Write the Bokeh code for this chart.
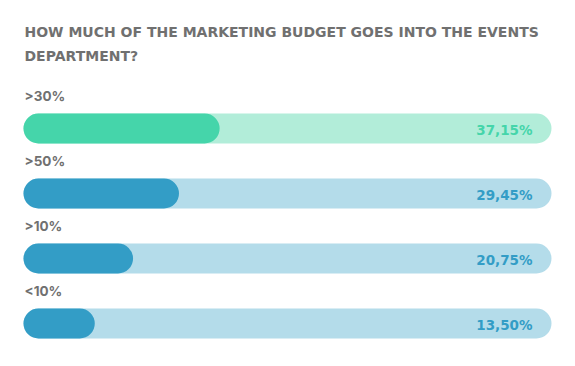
from bokeh.plotting import figure
from bokeh.models import Range1d, ColumnDataSource, Label
from bokeh.core.properties import value
from bokeh.embed import file_html
from bokeh.resources import INLINE

title_lines = ["HOW MUCH OF THE MARKETING BUDGET GOES INTO THE EVENTS", "DEPARTMENT?"]
categories = [">30%", ">50%", ">10%", "<10%"]
values = [37.15, 29.45, 20.75, 13.50]
value_labels = ["37,15%", "29,45%", "20,75%", "13,50%"]
fill_colors = ["#45d5aa", "#339dc6", "#339dc6", "#339dc6"]
track_colors = ["#b2edd9", "#b4dcea", "#b4dcea", "#b4dcea"]
scale_max = 100

W, H = 559, 350
left_pad = 23
px_per_unit = 528 / scale_max
row_px = 65
first_row_px = 128

rows = list(range(len(categories)))
src = ColumnDataSource(dict(
    y=rows,
    cat=categories,
    val=values,
    lab=value_labels,
    fill=fill_colors,
    track=track_colors,
    full=[scale_max] * len(rows),
    zero=[0] * len(rows),
    cat_y=[r - 33 / row_px for r in rows],
))

p = figure(width=W, height=H, output_backend="svg", toolbar_location=None,
           min_border=0, min_border_left=0, min_border_right=0,
           min_border_top=0, min_border_bottom=0)
p.x_range = Range1d(-left_pad / px_per_unit, (W - left_pad) / px_per_unit)
p.y_range = Range1d((H - first_row_px) / row_px, -first_row_px / row_px)
p.xaxis.visible = False
p.yaxis.visible = False
p.grid.visible = False
p.outline_line_color = None
p.background_fill_color = "white"
p.border_fill_color = "white"

bar_h = 30 / row_px
p.hbar(y="y", left="zero", right="full", height=bar_h, fill_color="track",
       line_color=None, border_radius=15, source=src)
p.hbar(y="y", left="zero", right="val", height=bar_h, fill_color="fill",
       line_color=None, border_radius=15, source=src)

p.text(x="zero", y="cat_y", text="cat", source=src, text_font=value("Inter"),
       text_font_size="13.5px", text_font_style="bold", text_color="#707070",
       text_baseline="middle", text_align="left", x_offset=1)
p.text(x="full", y="y", text="lab", source=src, text_font=value("DejaVu Sans"),
       text_font_size="13.5px", text_font_style="bold", text_color="fill",
       text_baseline="middle", text_align="right", x_offset=-19, y_offset=1)

for i, line in enumerate(title_lines):
    p.add_layout(Label(x=left_pad + 1, y=H - 31 - 24 * i, x_units="screen", y_units="screen",
                       text=line, text_font="DejaVu Sans", text_font_size="14px",
                       text_font_style="bold", text_color="#707070",
                       text_baseline="middle", text_align="left"))

open("out.html", "w").write(file_html(p, INLINE))
